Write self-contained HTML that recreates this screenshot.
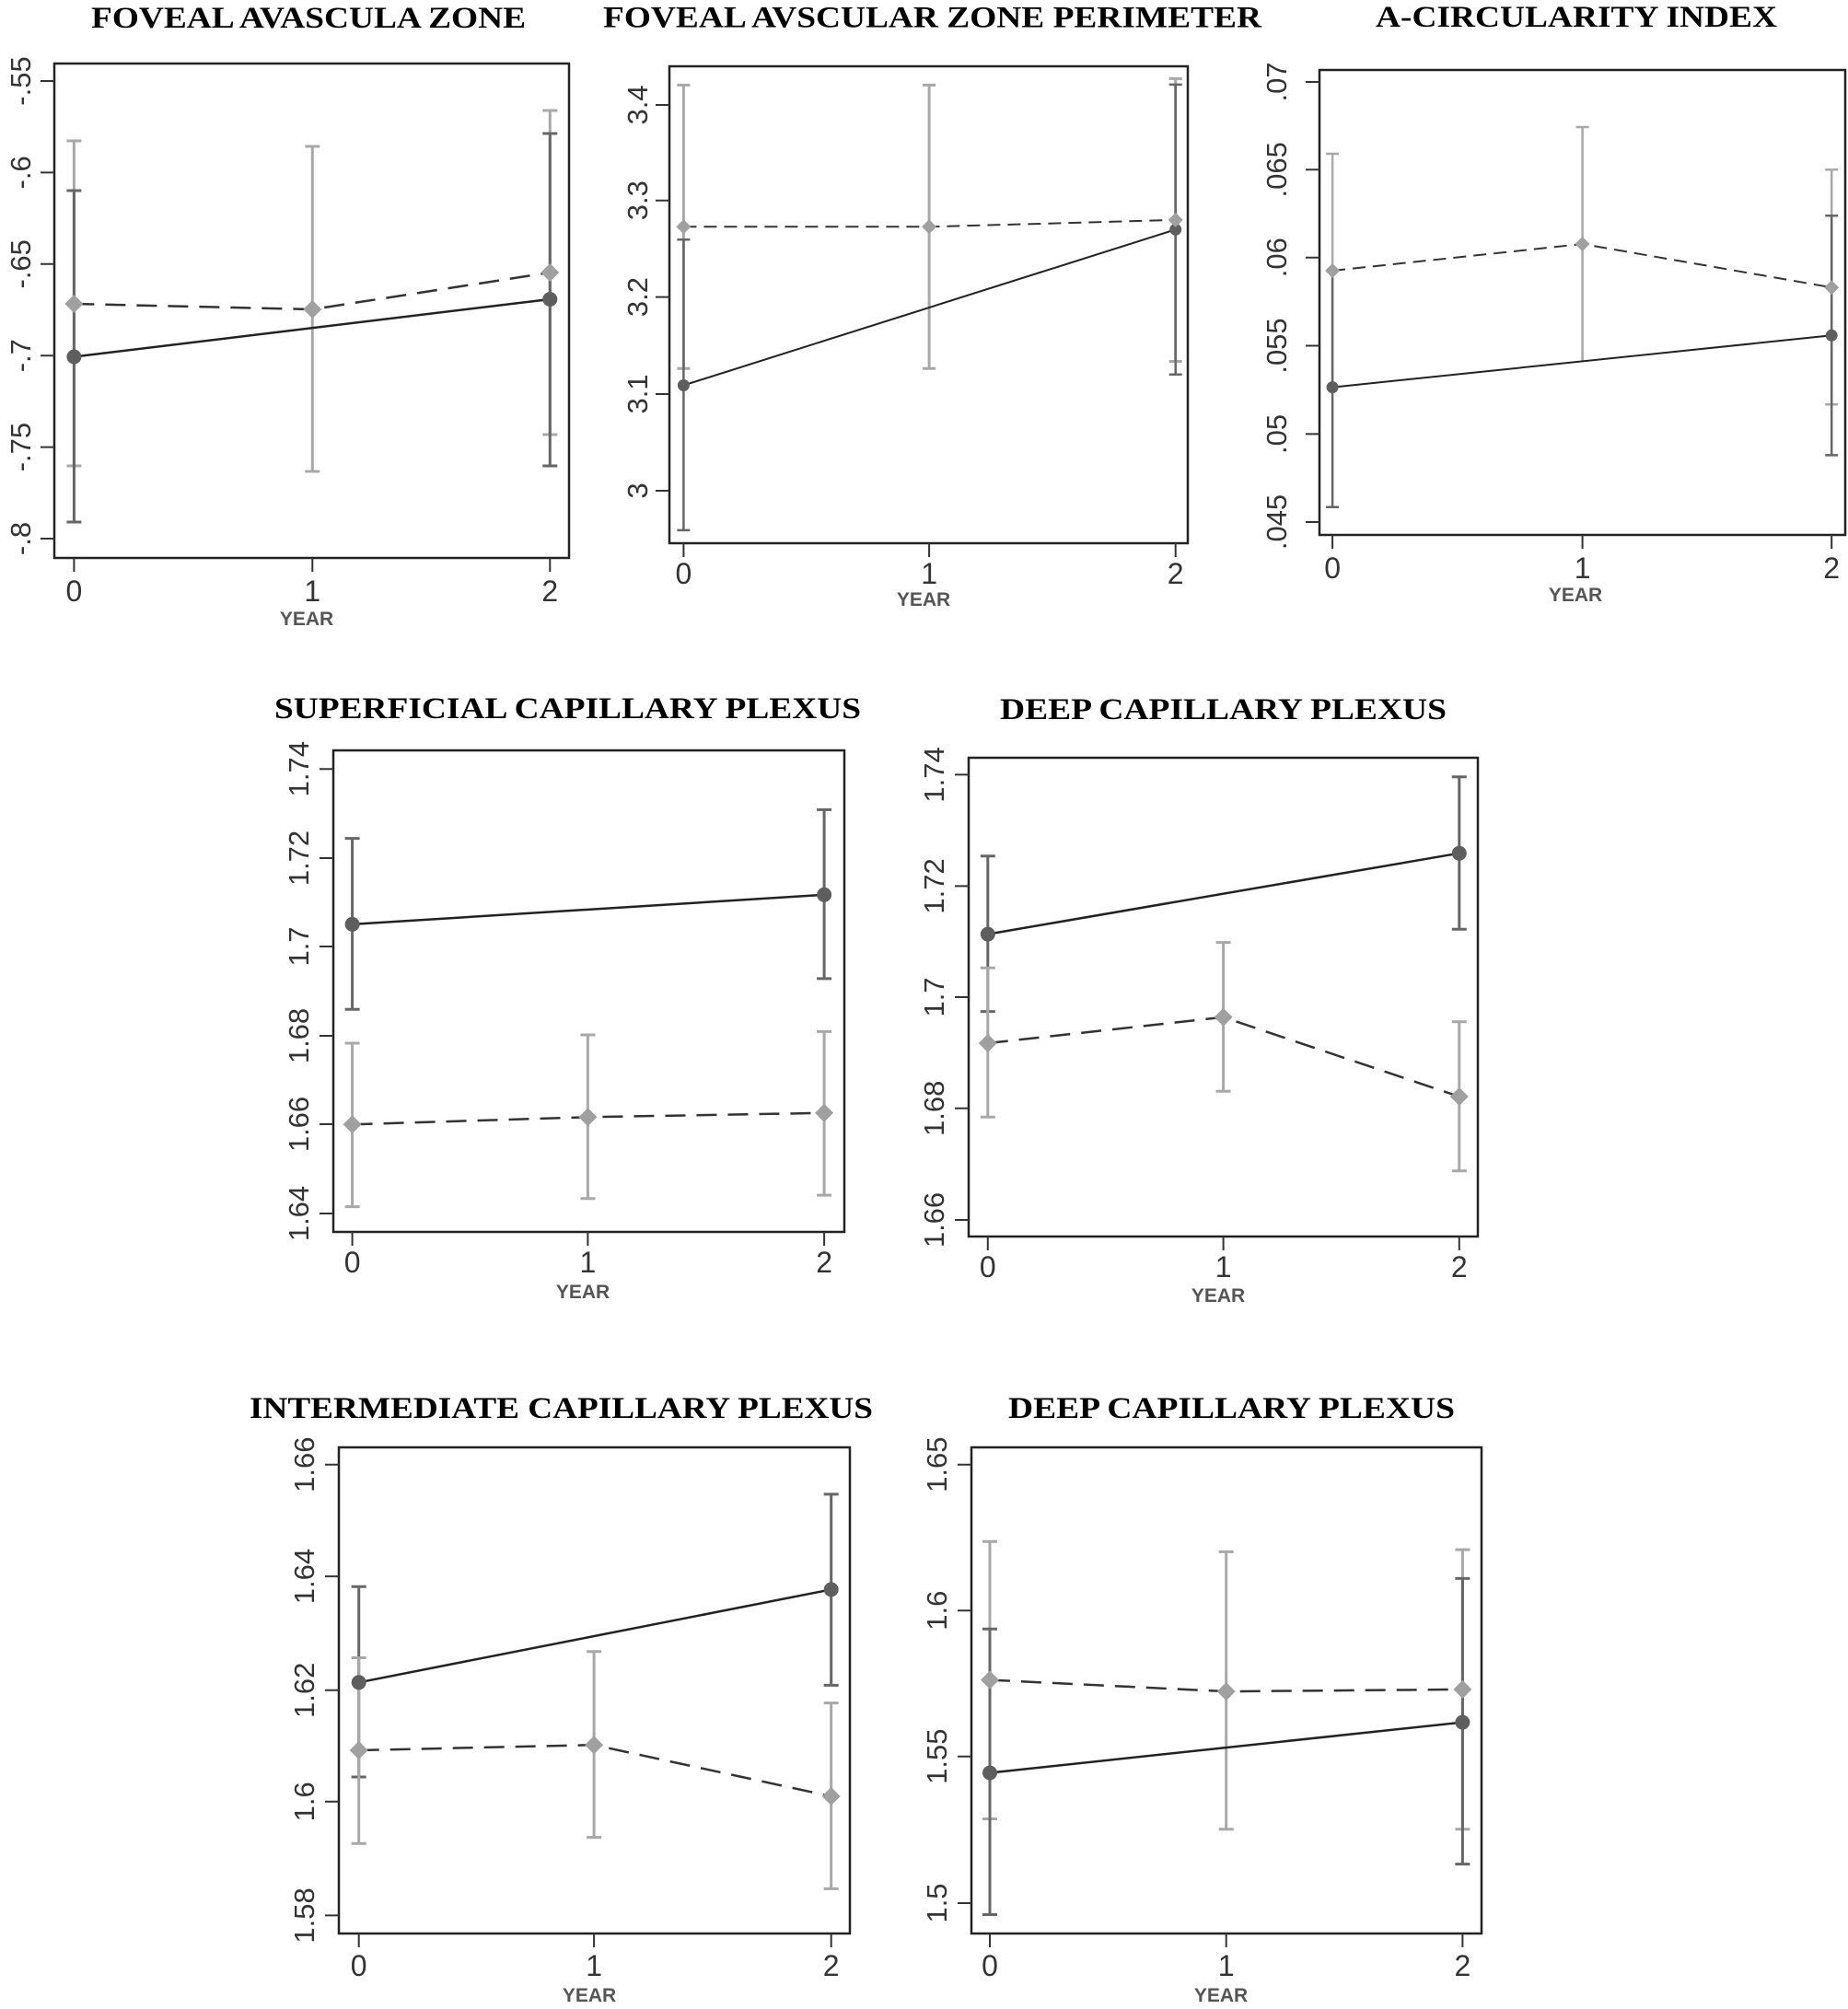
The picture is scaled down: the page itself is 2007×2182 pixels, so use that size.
<!DOCTYPE html>
<html><head><meta charset="utf-8"><style>
html,body{margin:0;padding:0;background:#fff;}
svg{display:block;}
.t{font-family:"Liberation Serif",serif;font-weight:bold;font-size:33px;fill:#000;}
.yl{font-family:"Liberation Sans",sans-serif;font-size:31px;fill:#333;text-anchor:middle;}
.xl{font-family:"Liberation Sans",sans-serif;font-size:32px;fill:#333;text-anchor:middle;}
.yr{font-family:"Liberation Sans",sans-serif;font-size:21px;font-weight:bold;fill:#555;text-anchor:middle;}
.box{fill:none;stroke:#222;stroke-width:2.5;}
.tk{stroke:#333;stroke-width:2;fill:none;}
.g{stroke:#a8a8a8;stroke-width:3;fill:none;}
.d{stroke:#666;stroke-width:3;fill:none;}
.sl{stroke:#222;stroke-width:2.5;fill:none;}
.dl{stroke:#333;stroke-width:2.5;fill:none;stroke-dasharray:22 12;}
.c{fill:#5e5e5e;}
.dm{fill:#a0a0a0;}
</style></head><body>
<svg width="2007" height="2182" viewBox="0 0 2007 2182" xmlns="http://www.w3.org/2000/svg">
<rect width="2007" height="2182" fill="#fff"/>

<!-- Panel 1 -->
<text class="t" x="99" y="30" textLength="472" lengthAdjust="spacingAndGlyphs">FOVEAL AVASCULA ZONE</text>
<rect class="box" x="59" y="69" width="559" height="537"/>
<path class="tk" d="M44 88H59M44 187.4H59M44 286.8H59M44 386.2H59M44 485.6H59M44 585H59M80.4 606V621M339.3 606V621M597.3 606V621"/>
<g class="yl">
<text transform="translate(33,88) rotate(-90)">-.55</text>
<text transform="translate(33,187.4) rotate(-90)">-.6</text>
<text transform="translate(33,286.8) rotate(-90)">-.65</text>
<text transform="translate(33,386.2) rotate(-90)">-.7</text>
<text transform="translate(33,485.6) rotate(-90)">-.75</text>
<text transform="translate(33,585) rotate(-90)">-.8</text>
</g>
<g class="xl"><text x="80.4" y="653">0</text><text x="339.3" y="653">1</text><text x="597.3" y="653">2</text></g>
<text class="yr" x="333" y="679">YEAR</text>
<path class="g" d="M80.4 153V506M72.4 153H88.4M72.4 506H88.4M339.3 159V512M331.3 159H347.3M331.3 512H347.3M597.3 120V472M589.3 120H605.3M589.3 472H605.3"/>
<path class="d" d="M80.4 207V567M72.4 207H88.4M72.4 567H88.4M597.3 145V506M589.3 145H605.3M589.3 506H605.3"/>
<polyline class="sl" points="80.4,387.5 597.3,325"/>
<polyline class="dl" points="80.4,330 339.3,336 597.3,296"/>
<circle class="c" cx="80.4" cy="387.5" r="8"/><circle class="c" cx="597.3" cy="325" r="8"/>
<path class="dm" d="M80.4 320l10 10-10 10-10-10zM339.3 326l10 10-10 10-10-10zM597.3 286l10 10-10 10-10-10z"/>

<!-- Panel 2 -->
<text class="t" x="655" y="29.5" textLength="715" lengthAdjust="spacingAndGlyphs">FOVEAL AVSCULAR ZONE PERIMETER</text>
<rect class="box" x="727" y="72" width="563" height="518"/>
<path class="tk" d="M712 114H727M712 217.7H727M712 322.6H727M712 428H727M712 533H727M742.4 590V605M1009.1 590V605M1276.7 590V605"/>
<g class="yl">
<text transform="translate(703,114) rotate(-90)">3.4</text>
<text transform="translate(703,217.7) rotate(-90)">3.3</text>
<text transform="translate(703,322.6) rotate(-90)">3.2</text>
<text transform="translate(703,428) rotate(-90)">3.1</text>
<text transform="translate(703,533) rotate(-90)">3</text>
</g>
<g class="xl"><text x="742.4" y="634">0</text><text x="1009.1" y="634">1</text><text x="1276.7" y="634">2</text></g>
<text class="yr" x="1003" y="658">YEAR</text>
<path class="g" d="M742.4 92.4V400.3M735.4 92.4H749.4M735.4 400.3H749.4M1009.1 92.4V400.3M1002.1 92.4H1016.1M1002.1 400.3H1016.1M1276.7 85.4V392.5M1269.7 85.4H1283.7M1269.7 392.5H1283.7"/>
<path class="d" style="stroke-width:2.5" d="M742.4 260.2V575.9M735.4 260.2H749.4M735.4 575.9H749.4M1276.7 91.9V406.8M1269.7 91.9H1283.7M1269.7 406.8H1283.7"/>
<polyline class="sl" style="stroke-width:2" points="742.4,418.5 1276.7,249.3"/>
<polyline class="dl" style="stroke-width:2;stroke-dasharray:14 8" points="742.4,246.3 1009.1,246.3 1276.7,238.9"/>
<circle class="c" cx="742.4" cy="418.5" r="6.5"/><circle class="c" cx="1276.7" cy="249.3" r="6.5"/>
<path class="dm" d="M742.4 238.3l8 8-8 8-8-8zM1009.1 238.3l8 8-8 8-8-8zM1276.7 230.9l8 8-8 8-8-8z"/>

<!-- Panel 3 -->
<text class="t" x="1494" y="29" textLength="436" lengthAdjust="spacingAndGlyphs">A-CIRCULARITY INDEX</text>
<rect class="box" x="1433" y="76" width="571" height="505"/>
<path class="tk" d="M1418 89H1433M1418 184.3H1433M1418 279.7H1433M1418 375.5H1433M1418 471.4H1433M1418 567H1433M1447.1 581V596M1718.6 581V596M1989.2 581V596"/>
<g class="yl">
<text transform="translate(1397,89) rotate(-90)">.07</text>
<text transform="translate(1397,184.3) rotate(-90)">.065</text>
<text transform="translate(1397,279.7) rotate(-90)">.06</text>
<text transform="translate(1397,375.5) rotate(-90)">.055</text>
<text transform="translate(1397,471.4) rotate(-90)">.05</text>
<text transform="translate(1397,567) rotate(-90)">.045</text>
</g>
<g class="xl"><text x="1447.1" y="628">0</text><text x="1718.6" y="628">1</text><text x="1989.2" y="628">2</text></g>
<text class="yr" x="1711" y="653">YEAR</text>
<path class="g" style="stroke-width:2.5" d="M1447.1 167V423M1440.1 167H1454.1M1718.6 138V392.5M1711.6 138H1725.6M1989.2 184.3V439.3M1982.2 184.3H1996.2M1982.2 439.3H1996.2"/>
<path class="d" style="stroke-width:2.5" d="M1447.1 295V550.7M1440.1 550.7H1454.1M1989.2 234.2V494.4M1982.2 234.2H1996.2M1982.2 494.4H1996.2"/>
<polyline class="sl" style="stroke-width:2" points="1447.1,420.6 1989.2,364.3"/>
<polyline class="dl" style="stroke-width:2;stroke-dasharray:14 8" points="1447.1,294 1718.6,265 1989.2,312.2"/>
<circle class="c" cx="1447.1" cy="420.6" r="6.5"/><circle class="c" cx="1989.2" cy="364.3" r="6.5"/>
<path class="dm" d="M1447.1 286l8 8-8 8-8-8zM1718.6 257l8 8-8 8-8-8zM1989.2 304.2l8 8-8 8-8-8z"/>

<!-- Panel 4 -->
<text class="t" x="298" y="780" textLength="637" lengthAdjust="spacingAndGlyphs">SUPERFICIAL CAPILLARY PLEXUS</text>
<rect class="box" x="362" y="815" width="555" height="523"/>
<path class="tk" d="M347 835.2H362M347 932H362M347 1028H362M347 1125H362M347 1221H362M347 1318H362M382.6 1338V1353M638.4 1338V1353M895.1 1338V1353"/>
<g class="yl">
<text transform="translate(335,835.2) rotate(-90)">1.74</text>
<text transform="translate(335,932) rotate(-90)">1.72</text>
<text transform="translate(335,1028) rotate(-90)">1.7</text>
<text transform="translate(335,1125) rotate(-90)">1.68</text>
<text transform="translate(335,1221) rotate(-90)">1.66</text>
<text transform="translate(335,1318) rotate(-90)">1.64</text>
</g>
<g class="xl"><text x="382.6" y="1382">0</text><text x="638.4" y="1382">1</text><text x="895.1" y="1382">2</text></g>
<text class="yr" x="633" y="1410">YEAR</text>
<path class="d" d="M382.6 910.6V1096.3M374.6 910.6H390.6M374.6 1096.3H390.6M895.1 879.4V1062.9M887.1 879.4H903.1M887.1 1062.9H903.1"/>
<path class="g" d="M382.6 1133V1310.6M374.6 1133H390.6M374.6 1310.6H390.6M638.4 1124V1301.7M630.4 1124H646.4M630.4 1301.7H646.4M895.1 1120.4V1298.1M887.1 1120.4H903.1M887.1 1298.1H903.1"/>
<polyline class="sl" points="382.6,1003.9 895.1,971.8"/>
<polyline class="dl" points="382.6,1221.3 638.4,1213.3 895.1,1208.8"/>
<circle class="c" cx="382.6" cy="1003.9" r="8"/><circle class="c" cx="895.1" cy="971.8" r="8"/>
<path class="dm" d="M382.6 1211.3l10 10-10 10-10-10zM638.4 1203.3l10 10-10 10-10-10zM895.1 1198.8l10 10-10 10-10-10z"/>

<!-- Panel 5 -->
<text class="t" x="1086" y="781" textLength="485" lengthAdjust="spacingAndGlyphs">DEEP CAPILLARY PLEXUS</text>
<rect class="box" x="1052" y="823" width="553" height="520"/>
<path class="tk" d="M1037 841.4H1052M1037 962.4H1052M1037 1083H1052M1037 1203.8H1052M1037 1325H1052M1072.8 1343V1358M1328.6 1343V1358M1584.8 1343V1358"/>
<g class="yl">
<text transform="translate(1025,841.4) rotate(-90)">1.74</text>
<text transform="translate(1025,962.4) rotate(-90)">1.72</text>
<text transform="translate(1025,1083) rotate(-90)">1.7</text>
<text transform="translate(1025,1203.8) rotate(-90)">1.68</text>
<text transform="translate(1025,1325) rotate(-90)">1.66</text>
</g>
<g class="xl"><text x="1072.8" y="1387">0</text><text x="1328.6" y="1387">1</text><text x="1584.8" y="1387">2</text></g>
<text class="yr" x="1323" y="1414">YEAR</text>
<path class="d" d="M1072.8 929.8V1098.6M1064.8 929.8H1080.8M1064.8 1098.6H1080.8M1584.8 843.7V1009.3M1576.8 843.7H1592.8M1576.8 1009.3H1592.8"/>
<path class="g" d="M1072.8 1051.2V1213.3M1064.8 1051.2H1080.8M1064.8 1213.3H1080.8M1328.6 1023.6V1185.2M1320.6 1023.6H1336.6M1320.6 1185.2H1336.6M1584.8 1109.7V1271.8M1576.8 1109.7H1592.8M1576.8 1271.8H1592.8"/>
<polyline class="sl" points="1072.8,1014.6 1584.8,926.7"/>
<polyline class="dl" points="1072.8,1133 1328.6,1104.8 1584.8,1191"/>
<circle class="c" cx="1072.8" cy="1014.6" r="8"/><circle class="c" cx="1584.8" cy="926.7" r="8"/>
<path class="dm" d="M1072.8 1123l10 10-10 10-10-10zM1328.6 1094.8l10 10-10 10-10-10zM1584.8 1181l10 10-10 10-10-10z"/>

<!-- Panel 6 -->
<text class="t" x="271" y="1540" textLength="677" lengthAdjust="spacingAndGlyphs">INTERMEDIATE CAPILLARY PLEXUS</text>
<rect class="box" x="368" y="1572" width="555" height="528"/>
<path class="tk" d="M353 1590.7H368M353 1712.1H368M353 1835.8H368M353 1956.8H368M353 2080.4H368M389.7 2100V2115M645.1 2100V2115M902.7 2100V2115"/>
<g class="yl">
<text transform="translate(341,1590.7) rotate(-90)">1.66</text>
<text transform="translate(341,1712.1) rotate(-90)">1.64</text>
<text transform="translate(341,1835.8) rotate(-90)">1.62</text>
<text transform="translate(341,1956.8) rotate(-90)">1.6</text>
<text transform="translate(341,2080.4) rotate(-90)">1.58</text>
</g>
<g class="xl"><text x="389.7" y="2146">0</text><text x="645.1" y="2146">1</text><text x="902.7" y="2146">2</text></g>
<text class="yr" x="640" y="2174">YEAR</text>
<path class="d" d="M389.7 1723.3V1930M381.7 1723.3H397.7M381.7 1930H397.7M902.7 1622.9V1830.4M894.7 1622.9H910.7M894.7 1830.4H910.7"/>
<path class="g" d="M389.7 1800.5V2002.3M381.7 1800.5H397.7M381.7 2002.3H397.7M645.1 1793.8V1995.6M637.1 1793.8H653.1M637.1 1995.6H653.1M902.7 1849.6V2051.4M894.7 1849.6H910.7M894.7 2051.4H910.7"/>
<polyline class="sl" points="389.7,1827.3 902.7,1726.4"/>
<polyline class="dl" points="389.7,1901 645.1,1895.2 902.7,1951"/>
<circle class="c" cx="389.7" cy="1827.3" r="8"/><circle class="c" cx="902.7" cy="1726.4" r="8"/>
<path class="dm" d="M389.7 1891l10 10-10 10-10-10zM645.1 1885.2l10 10-10 10-10-10zM902.7 1941l10 10-10 10-10-10z"/>

<!-- Panel 7 -->
<text class="t" x="1095" y="1540" textLength="485" lengthAdjust="spacingAndGlyphs">DEEP CAPILLARY PLEXUS</text>
<rect class="box" x="1055" y="1572" width="554" height="528"/>
<path class="tk" d="M1040 1590.7H1055M1040 1749.2H1055M1040 1907.7H1055M1040 2067H1055M1075 2100V2115M1331.7 2100V2115M1588.4 2100V2115"/>
<g class="yl">
<text transform="translate(1028,1590.7) rotate(-90)">1.65</text>
<text transform="translate(1028,1749.2) rotate(-90)">1.6</text>
<text transform="translate(1028,1907.7) rotate(-90)">1.55</text>
<text transform="translate(1028,2067) rotate(-90)">1.5</text>
</g>
<g class="xl"><text x="1075" y="2146">0</text><text x="1331.7" y="2146">1</text><text x="1588.4" y="2146">2</text></g>
<text class="yr" x="1326" y="2174">YEAR</text>
<path class="g" d="M1075 1674.2V1975.5M1067 1674.2H1083M1067 1975.5H1083M1331.7 1685.4V1986.7M1323.7 1685.4H1339.7M1323.7 1986.7H1339.7M1588.4 1683.1V1986.7M1580.4 1683.1H1596.4M1580.4 1986.7H1596.4"/>
<path class="d" d="M1075 1769.3V2079.5M1067 1769.3H1083M1067 2079.5H1083M1588.4 1714.4V2024.6M1580.4 1714.4H1596.4M1580.4 2024.6H1596.4"/>
<polyline class="sl" points="1075,1925.5 1588.4,1870.6"/>
<polyline class="dl" points="1075,1824.6 1331.7,1837.1 1588.4,1834.9"/>
<circle class="c" cx="1075" cy="1925.5" r="8"/><circle class="c" cx="1588.4" cy="1870.6" r="8"/>
<path class="dm" d="M1075 1814.6l10 10-10 10-10-10zM1331.7 1827.1l10 10-10 10-10-10zM1588.4 1824.9l10 10-10 10-10-10z"/>
</svg>
</body></html>
